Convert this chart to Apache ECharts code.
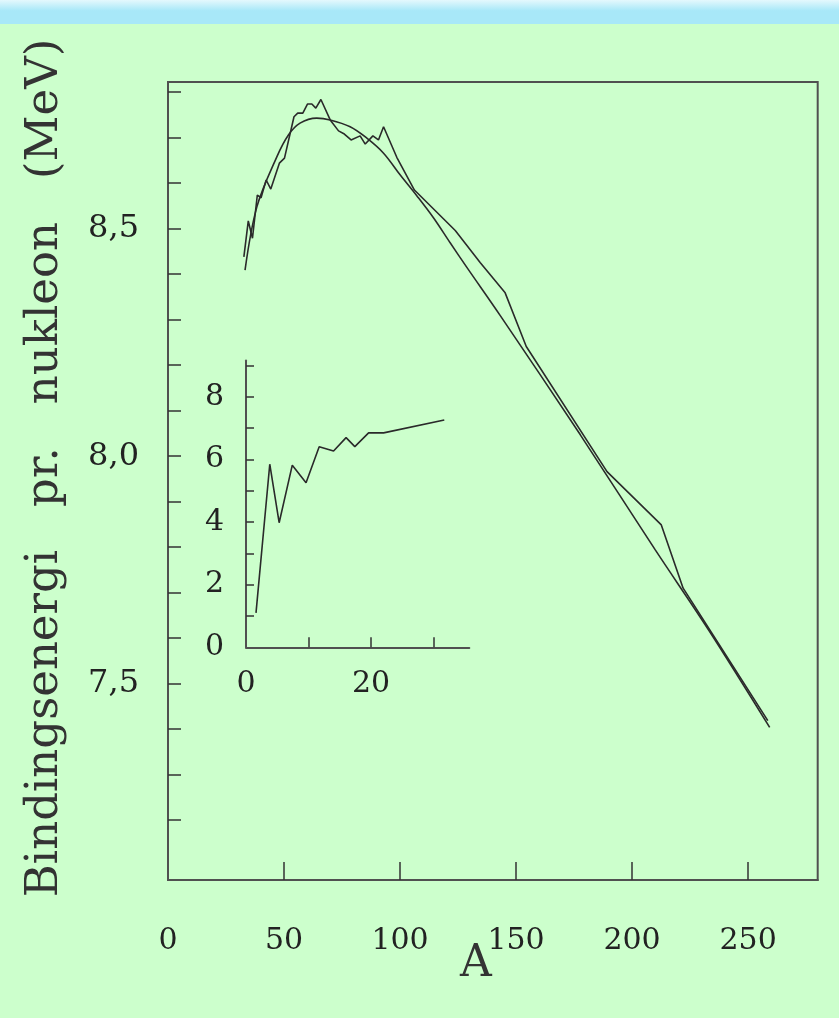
<!DOCTYPE html>
<html>
<head>
<meta charset="utf-8">
<script src="https://cdn.jsdelivr.net/npm/echarts@6/dist/echarts.min.js"></script>
<style>
  html, body { margin: 0; padding: 0; background: #ccffcc; }
  #chart { width: 839px; height: 1018px; }
</style>
</head>
<body>
<div id="chart"></div>
<script>
// Binding energy per nucleon versus mass number A (measured values and the
// semi-empirical mass formula), with an inset for the lightest nuclei.

// Measured binding energy per nucleon (MeV)
const measuredA = [32.7, 34.6, 36.4, 38.5, 40.1, 42.3, 44.3, 48.0, 50.2, 54.3, 55.9, 58.1,
                   60.1, 62.0, 63.7, 65.9, 69.9, 73.5, 76.0, 78.9, 82.8, 85.0, 88.3, 90.7,
                   92.9, 98.6, 106.2, 123.8, 134.6, 145.3, 154.4, 189.2, 212.6, 222.0, 258.5];
const measuredE = [8.438, 8.517, 8.479, 8.574, 8.568, 8.607, 8.587, 8.644, 8.655, 8.746, 8.754, 8.754,
                   8.774, 8.774, 8.765, 8.784, 8.739, 8.715, 8.708, 8.695, 8.704, 8.686, 8.704, 8.695,
                   8.724, 8.657, 8.585, 8.496, 8.425, 8.359, 8.241, 7.966, 7.849, 7.710, 7.419];

// Semi-empirical mass formula curve (MeV)
const formulaA = [33.2, 38.3, 46.9, 51.9, 56.9, 64.1, 69.9, 78.5, 85.7, 92.9, 100.1,
                  107.3, 114.4, 121.6, 128.8, 143.2, 177.7, 210.0, 233.0, 259.3];
const formulaE = [8.409, 8.548, 8.658, 8.706, 8.732, 8.743, 8.739, 8.724, 8.699, 8.666, 8.618,
                  8.572, 8.524, 8.469, 8.415, 8.309, 8.047, 7.794, 7.618, 7.404];

// Light nuclei (inset)
const lightA = [1.6, 3.8, 5.3, 7.4, 9.6, 11.7, 14.0, 16.0, 17.4, 19.6, 22.0, 31.7];
const lightE = [1.10, 5.85, 3.98, 5.82, 5.26, 6.41, 6.27, 6.70, 6.41, 6.85, 6.85, 7.26];

// Axis ticks and labels
const mainXTicks = [50, 100, 150, 200, 250];
const mainXLabels = [0, 50, 100, 150, 200, 250];
const mainYTicks = [7.2, 7.3, 7.4, 7.5, 7.6, 7.7, 7.8, 7.9, 8.0, 8.1, 8.2, 8.3, 8.4, 8.5, 8.6, 8.7, 8.8];
const mainYLabels = [7.5, 8.0, 8.5];
const insetXTicks = [10, 20, 30];
const insetXLabels = [0, 20];
const insetYTicks = [1, 2, 3, 4, 5, 6, 7, 8, 9];
const insetYLabels = [0, 2, 4, 6, 8];

const zip = (xs, ys) => xs.map((x, i) => [x, ys[i]]);

const FONT = 'DejaVu Serif';
const INK = '#2a2a2a';
const AXIS = '#505050';

const chart = echarts.init(document.getElementById('chart'), null, { renderer: 'canvas' });

chart.setOption({
  backgroundColor: '#ccffcc',
  animation: false,
  graphic: [{
    type: 'rect',
    left: 0, top: 0,
    shape: { width: 839, height: 24 },
    style: {
      fill: new echarts.graphic.LinearGradient(0, 0, 0, 1, [
        { offset: 0, color: '#e4f8fd' },
        { offset: 0.45, color: '#a8e8f8' },
        { offset: 1, color: '#a8e8f8' }
      ])
    },
    silent: true
  }],
  grid: [
    { left: 168, top: 82, right: 21.3, bottom: 138, show: true,
      borderColor: AXIS, borderWidth: 2, backgroundColor: 'transparent' },
    { left: 246, top: 360.6, width: 223.3, height: 286.7 }
  ],
  xAxis: [
    {
      gridIndex: 0, type: 'value', min: 0, max: 280,
      name: 'A', nameLocation: 'middle', nameGap: 63, nameMoveOverlap: false,
      nameTextStyle: { fontFamily: FONT, fontSize: 44, color: '#333', padding: [0, 34, 0, 0] },
      axisLine: { show: true, lineStyle: { color: AXIS, width: 2 } },
      axisTick: { show: true, inside: true, length: 18, customValues: mainXTicks,
                  lineStyle: { color: '#333', width: 1.5 } },
      axisLabel: { customValues: mainXLabels, margin: 46, fontFamily: FONT, fontSize: 30, color: '#222' },
      splitLine: { show: false }
    },
    {
      gridIndex: 1, type: 'value', min: 0, max: 35.7,
      axisLine: { show: true, lineStyle: { color: AXIS, width: 2 } },
      axisTick: { show: true, inside: true, length: 10, customValues: insetXTicks,
                  lineStyle: { color: '#333', width: 1.5 } },
      axisLabel: { customValues: insetXLabels, margin: 22, fontFamily: FONT, fontSize: 30, color: '#222' },
      splitLine: { show: false }
    }
  ],
  yAxis: [
    {
      gridIndex: 0, type: 'value', min: 7.0686, max: 8.8224,
      name: 'Bindingsenergi   pr.   nukleon   (MeV)', nameLocation: 'middle', nameGap: 100,
      nameRotate: 90, nameMoveOverlap: false,
      nameTextStyle: { fontFamily: FONT, fontSize: 45, color: '#333', padding: [0, 0, 0, 26] },
      axisLine: { show: true, lineStyle: { color: AXIS, width: 2 } },
      axisTick: { show: true, inside: true, length: 13, customValues: mainYTicks,
                  lineStyle: { color: '#333', width: 1.5 } },
      axisLabel: { customValues: mainYLabels, margin: 29, fontFamily: FONT, fontSize: 32, color: '#222',
                   formatter: v => v.toFixed(1).replace('.', ',') },
      splitLine: { show: false }
    },
    {
      gridIndex: 1, type: 'value', min: 0, max: 9.16,
      axisLine: { show: true, lineStyle: { color: AXIS, width: 2 } },
      axisTick: { show: true, inside: true, length: 8, customValues: insetYTicks,
                  lineStyle: { color: '#333', width: 1.5 } },
      axisLabel: { customValues: insetYLabels, margin: 22, fontFamily: FONT, fontSize: 30, color: '#222' },
      splitLine: { show: false }
    }
  ],
  series: [
    {
      name: 'measured', type: 'line', xAxisIndex: 0, yAxisIndex: 0,
      data: zip(measuredA, measuredE), showSymbol: false,
      lineStyle: { color: INK, width: 1.6 }
    },
    {
      name: 'formula', type: 'line', xAxisIndex: 0, yAxisIndex: 0,
      data: zip(formulaA, formulaE), showSymbol: false, smooth: 0.35,
      lineStyle: { color: INK, width: 1.6 }
    },
    {
      name: 'light', type: 'line', xAxisIndex: 1, yAxisIndex: 1,
      data: zip(lightA, lightE), showSymbol: false,
      lineStyle: { color: INK, width: 1.6 }
    }
  ]
});
</script>
</body>
</html>
